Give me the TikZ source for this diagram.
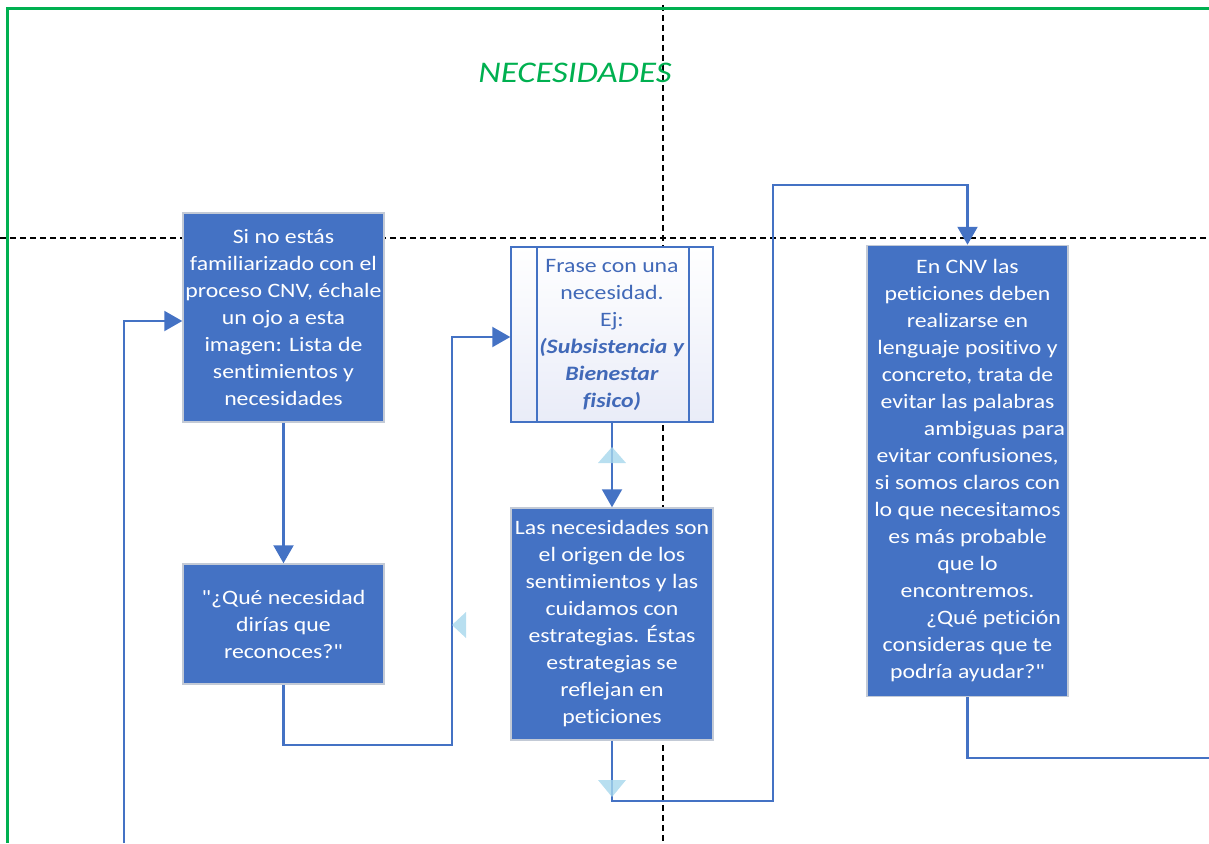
\documentclass[tikz,border=0pt]{standalone}
\usepackage{fontspec}
\setmainfont{Carlito}[FakeStretch=1.16, Ligatures={NoCommon,TeXOff}]
\usetikzlibrary{arrows.meta}
\definecolor{boxblue}{HTML}{4472C4}
\definecolor{linkblue}{HTML}{4472C4}
\definecolor{framegreen}{HTML}{00B050}
\definecolor{hintblue}{HTML}{A6D7EC}
\definecolor{boxedge}{HTML}{C3CAD6}
\definecolor{procfill}{HTML}{E9ECF8}
\definecolor{proctext}{HTML}{4169B8}
\begin{document}
\begin{tikzpicture}[x=1pt,y=-1pt,
  card/.style={draw=boxedge, line width=1.5pt, fill=boxblue, text=white,
    align=center, inner sep=0pt, font=\fontsize{20.5}{27}\selectfont},
  procbox/.style={draw=linkblue, line width=1.5pt, top color=white,
    bottom color=procfill, text=proctext, align=center, inner sep=0pt,
    font=\fontsize{20.5}{27}\selectfont},
  link/.style={draw=linkblue, line width=2.2pt},
  tip/.style={-{Triangle[width=20pt,length=18pt]}},
  guide/.style={draw=black, line width=1.3pt, dash pattern=on 6pt off 4pt},
  hint/.style={fill=hintblue, fill opacity=0.8}]
\useasboundingbox (0,0) rectangle (1209,843);

% guide lines
\draw[guide] (0,238) -- (1209,238);
\draw[guide] (663,5) -- (663,843);

% lane frame and title
\draw[framegreen, line width=3pt] (7,843) -- (7,9) -- (1209,9);
\node[text=framegreen, font=\fontsize{30}{36}\selectfont\itshape] (title) at (575,73) {NECESIDADES};

% boxes
\node[card, minimum width=201pt, minimum height=209pt] (b1) at (283.5,317.5)
  {Si no estás\\familiarizado con el\\proceso CNV, échale\\un ojo a esta\\imagen: Lista de\\sentimientos y\\necesidades};
\node[card, minimum width=201pt, minimum height=120pt] (b2) at (283.5,624)
  {"¿Qué necesidad\\dirías que\\reconoces?"};
\node[procbox, minimum width=202pt, minimum height=175pt] (b3) at (612,334.5)
  {Frase con una\\necesidad.\\Ej:\\\textbf{\textit{(Subsistencia y}}\\\textbf{\textit{Bienestar}}\\\textbf{\textit{fisico)}}};
\draw[linkblue, line width=1.5pt] (537,247) -- (537,422) (689,247) -- (689,422);
\node[card, minimum width=202pt, minimum height=232pt] (b4) at (612,624)
  {Las necesidades son\\el origen de los\\sentimientos y las\\cuidamos con\\estrategias. Éstas\\estrategias se\\reflejan en\\peticiones};
\node[card, minimum width=201pt, minimum height=451pt] (b5) at (967.5,471)
  {En CNV las\\peticiones deben\\realizarse en\\lenguaje positivo y\\concreto, trata de\\evitar las palabras\\\hspace*{54pt}ambiguas para\\evitar confusiones,\\si somos claros con\\lo que necesitamos\\es más probable\\que lo\\encontremos.\\\hspace*{52pt}¿Qué petición\\consideras que te\\podría ayudar?"};

% connector bends
\coordinate (k1) at (452,745);
\coordinate (k2) at (452,337);
\coordinate (k3) at (773,801);
\coordinate (k4) at (773,185);
\coordinate (out) at (1209,758);
\coordinate (in) at (124,843);
\coordinate (k5) at (124,321);

% connectors
\draw[link,tip] (b1.south) -- (b2.north);
\draw[link,tip] (b2.south) |- (k1) -- (k2) -- (k2 -| b3.west);
\draw[link,tip] (b3.south) -- (b4.north);
\draw[link,tip] (b4.south) |- (k3) -- (k4) -| (b5.north);
\draw[link] (b5.south) |- (out);
\draw[link,tip] (in) -- (k5) -- (k5 -| b1.west);

% flow direction markers
\fill[hint] (598,463) -- (626,463) -- (612,447) -- cycle;
\fill[hint] (598,780) -- (626,780) -- (612,797) -- cycle;
\fill[hint] (466,612) -- (466,638) -- (452,625) -- cycle;
\end{tikzpicture}
\end{document}
